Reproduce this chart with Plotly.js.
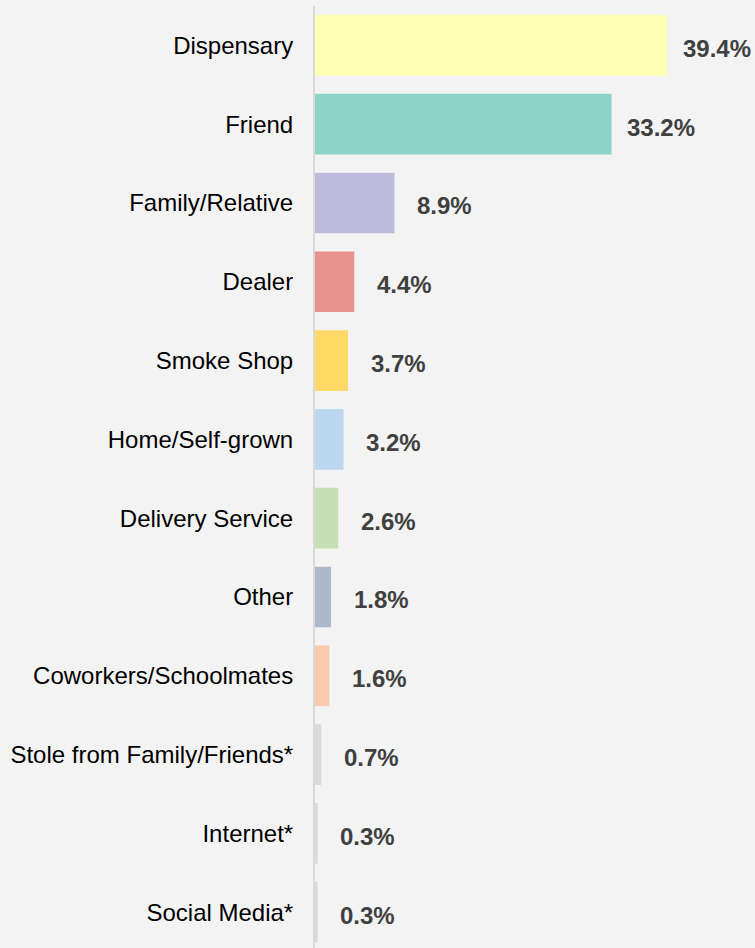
<!DOCTYPE html>
<html>
<head>
<meta charset="utf-8">
<script src="https://cdn.plot.ly/plotly-3.0.1.min.js"></script>
<style>
  html, body { margin: 0; padding: 0; background: #f3f3f3; }
  #chart { width: 755px; height: 948px; }
</style>
</head>
<body>
<div id="chart"></div>
<script>
const categories = [
  "Dispensary", "Friend", "Family/Relative", "Dealer", "Smoke Shop",
  "Home/Self-grown", "Delivery Service", "Other", "Coworkers/Schoolmates",
  "Stole from Family/Friends*", "Internet*", "Social Media*"
];
const values = [39.4, 33.2, 8.9, 4.4, 3.7, 3.2, 2.6, 1.8, 1.6, 0.7, 0.3, 0.3];
const valueLabels = ["39.4%", "33.2%", "8.9%", "4.4%", "3.7%", "3.2%", "2.6%", "1.8%", "1.6%", "0.7%", "0.3%", "0.3%"];
const barColors = [
  "#ffffb3", "#8dd3c7", "#bebada", "#e99390", "#ffd966", "#bdd7ee",
  "#c6e0b4", "#adb9ca", "#f8cbad", "#d9d9d9", "#d9d9d9", "#d9d9d9"
];

const trace = {
  type: "bar",
  orientation: "h",
  x: values,
  y: categories,
  marker: { color: barColors, line: { width: 0 } },
  hoverinfo: "none"
};

const annotations = values.map((v, i) => ({
  x: v,
  y: categories[i],
  xref: "x",
  yref: "y",
  text: "<b>" + valueLabels[i] + "</b>",
  showarrow: false,
  xanchor: "center",
  yanchor: "middle",
  xshift: 50,
  yshift: -3,
  font: { family: "Liberation Sans, Arial, sans-serif", size: 24, color: "#404040" }
}));

const layout = {
  width: 755,
  height: 948,
  paper_bgcolor: "#f3f3f3",
  plot_bgcolor: "#f3f3f3",
  margin: { l: 315, r: 0, t: 6, b: 0, pad: 0 },
  bargap: 0.23,
  showlegend: false,
  font: { family: "Liberation Sans, Arial, sans-serif", color: "#000000" },
  xaxis: {
    range: [0, 49.27],
    visible: false,
    showgrid: false,
    zeroline: false,
    fixedrange: true
  },
  yaxis: {
    type: "category",
    range: [11.455, -0.5],
    showgrid: false,
    zeroline: false,
    showline: true,
    linecolor: "#d9d9d9",
    linewidth: 2,
    ticks: "",
    ticklabelstandoff: 15,
    tickfont: { family: "Liberation Sans, Arial, sans-serif", size: 24, color: "#000000" },
    fixedrange: true
  },
  annotations: annotations
};

Plotly.newPlot("chart", [trace], layout, { displayModeBar: false, staticPlot: true });
</script>
</body>
</html>
